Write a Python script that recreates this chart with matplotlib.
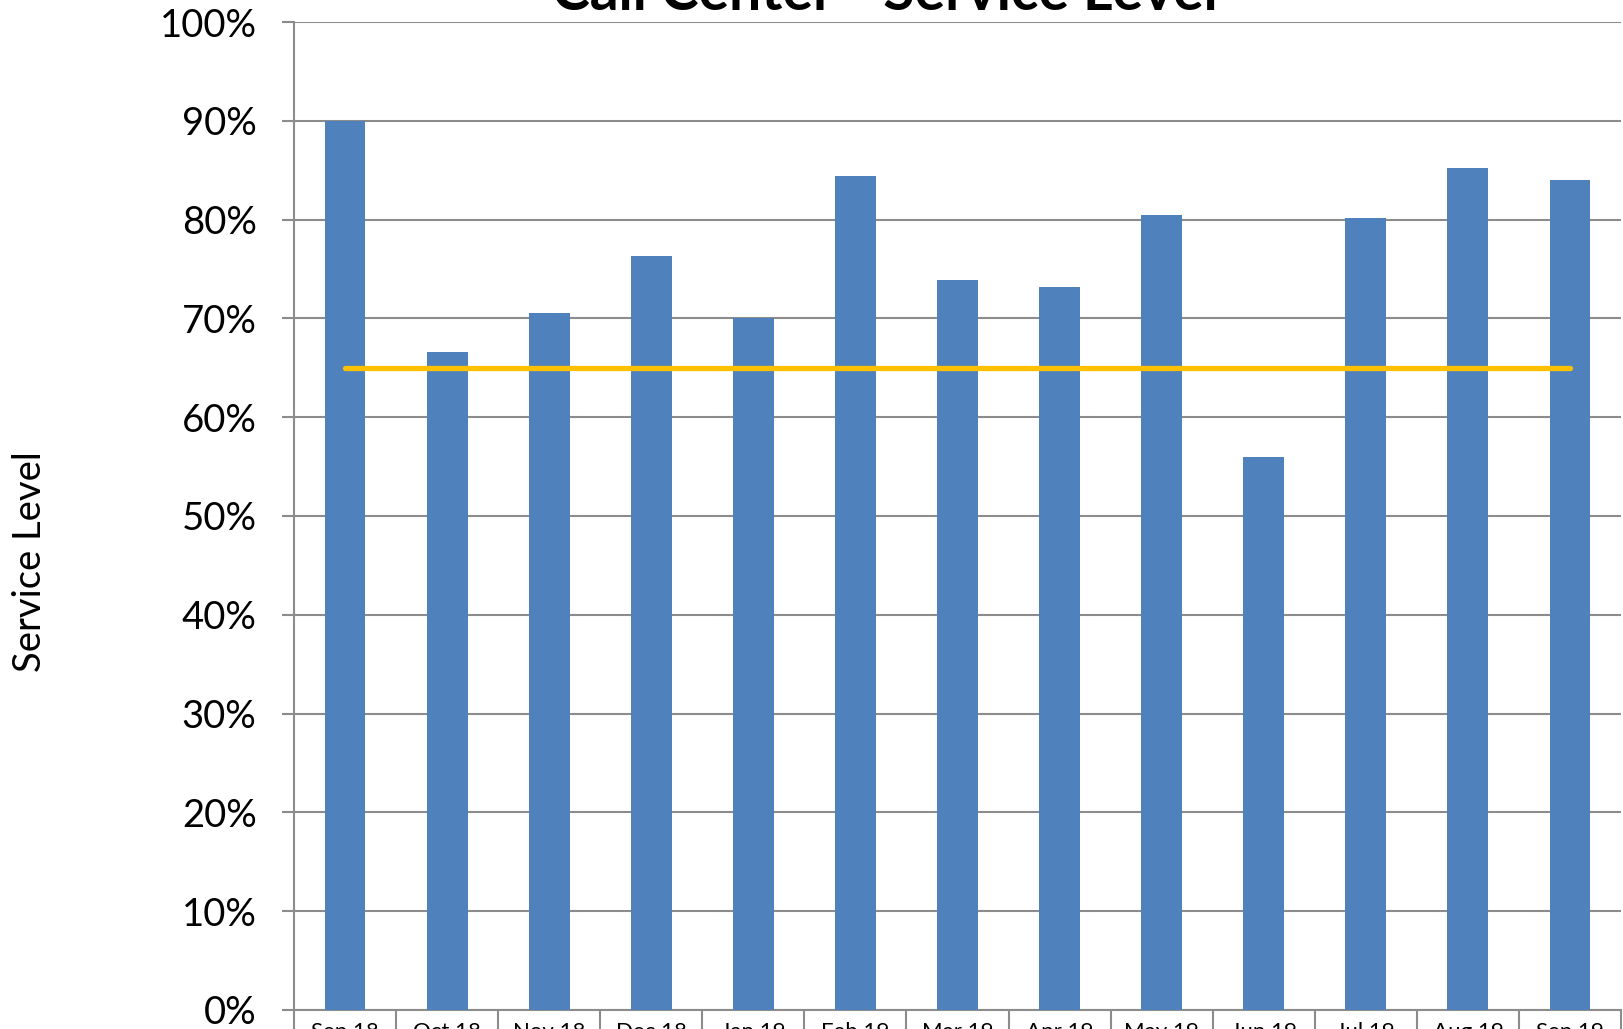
"""
Call Center service level chart: monthly bars with a flat target line.
"""

import matplotlib
matplotlib.use('Agg')
import matplotlib.pyplot as plt
import numpy as np
from matplotlib.ticker import FuncFormatter, MultipleLocator

months = ['Sep 18', 'Oct 18', 'Nov 18', 'Dec 18', 'Jan 19', 'Feb 19', 'Mar 19',
          'Apr 19', 'May 19', 'Jun 19', 'Jul 19', 'Aug 19', 'Sep 19']
service_level = [0.900, 0.666, 0.705, 0.763, 0.700, 0.844, 0.739,
                 0.732, 0.805, 0.560, 0.802, 0.852, 0.840]
target = [0.65] * len(months)

BAR_COLOR = '#4F81BD'
TARGET_COLOR = '#FFC000'
GRID_COLOR = '#8C8C8C'

plt.rcParams['font.family'] = ['Lato', 'DejaVu Sans']

fig = plt.figure(figsize=(16.23, 10.29), dpi=100)
ax = fig.add_axes([294 / 1623, 19 / 1029, (1621 - 294) / 1623, 988 / 1029])

x = np.arange(len(months))
ax.bar(x, service_level, width=0.4, color=BAR_COLOR, zorder=3)
ax.plot(x, target, color=TARGET_COLOR, linewidth=3.8, solid_capstyle='round', zorder=4)

ax.set_xlim(-0.5, len(months) - 0.5)
ax.set_ylim(0, 1.0)
ax.yaxis.set_major_locator(MultipleLocator(0.1))
ax.yaxis.set_major_formatter(FuncFormatter(lambda v, _: f"{v * 100:.0f}%"))
ax.grid(axis='y', color=GRID_COLOR, linewidth=1.5, zorder=0)

# category labels at centres, divider ticks between categories
ax.set_xticks(x)
ax.set_xticklabels(months, fontsize=16)
ax.set_xticks(np.arange(-0.5, len(months)), minor=True)
ax.tick_params(axis='x', which='major', length=0, pad=9)
ax.tick_params(axis='x', which='minor', length=30, width=1.5, color=GRID_COLOR)
ax.tick_params(axis='y', length=9, width=1.5, color=GRID_COLOR, labelsize=27.5, pad=18)

for side in ('top', 'right'):
    ax.spines[side].set_visible(False)
for side in ('left', 'bottom'):
    ax.spines[side].set_color(GRID_COLOR)
    ax.spines[side].set_linewidth(1.5)

fig.text(30 / 1623, 1 - 562 / 1029, 'Service Level', rotation=90,
         ha='center', va='center', fontsize=27.5)
fig.text(885 / 1623, 1 - 10 / 1029, 'Call Center - Service Level',
         ha='center', va='baseline', fontsize=41, fontweight='bold')

fig.savefig('out.png', dpi=100)
plt.close(fig)
